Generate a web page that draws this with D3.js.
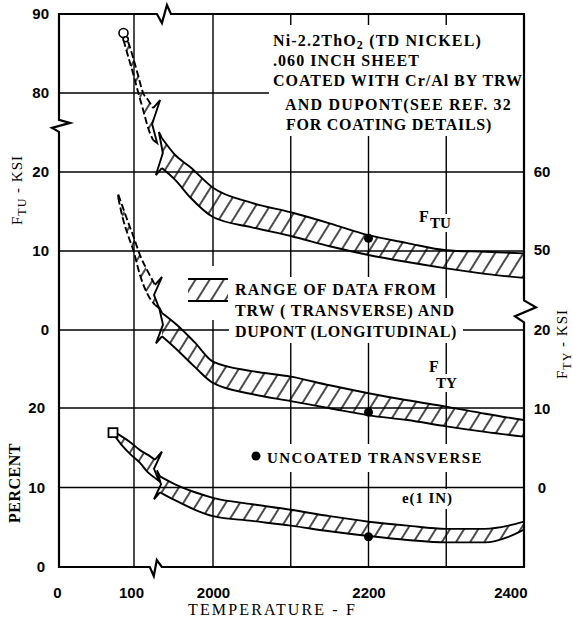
<!DOCTYPE html>
<html><head><meta charset="utf-8">
<script src="https://cdn.jsdelivr.net/npm/d3@7"></script>
<style>body{margin:0;background:#fff} svg{display:block}</style>
</head><body>
<svg id="c" width="573" height="625"></svg>
<script>
// ---------------- DATA ----------------
const xTickValues = [0, 100, 2000, 2200, 2400];
const xTickLabels = ["0", "100", "2000", "2200", "2400"];
const xGridValues = [100, 2000, 2100, 2200, 2300];
const tuTickValues = [90, 80, 20, 10, 0];
const tyTickValues = [60, 50, 20, 10, 0];
const elTickValues = [20, 10, 0];

// F_TU band (ksi), before and after the axis break
const ftuTemp1 = [86, 92, 99, 200, 320, 440, 560];
const ftuLow1  = [86.7, 84.7, 82.4, 80.1, 67.1, 53.4, 44.3];
const ftuHigh1 = [87.6, 86.5, 84.4, 82.2, 80.0, 74.7, 68.6];
const ftuTemp2 = [770, 1090, 1450, 2000, 2050, 2100, 2150, 2200, 2250, 2300, 2350, 2400];
const ftuLow2  = [23.0, 19.0, 16.8, 14.3, 13.0, 11.9, 10.6, 9.5, 8.6, 7.8, 7.1, 6.6];
const ftuHigh2 = [45.8, 32.9, 23.8, 18.0, 16.1, 14.9, 13.5, 12.0, 11.0, 10.1, 9.9, 9.7];

// F_TY band (ksi)
const ftyTemp1 = [79, 85, 92, 99, 244, 437, 605];
const ftyLow1  = [56.7, 54.1, 51.9, 50.0, 40.6, 33.1, 29.4];
const ftyHigh1 = [57.1, 55.5, 53.6, 51.8, 48.1, 41.8, 36.9];
const ftyTemp2 = [773, 1134, 1567, 2000, 2050, 2100, 2150, 2200, 2250, 2300, 2350, 2400];
const ftyLow2  = [19.2, 17.5, 15.3, 13.3, 11.9, 11.0, 10.1, 9.2, 8.6, 7.8, 7.1, 6.5];
const ftyHigh2 = [26.4, 21.9, 18.4, 16.0, 14.8, 14.1, 13.0, 12.0, 11.1, 10.3, 9.4, 8.6];

// Elongation band (percent)
const elTemp1 = [75, 84, 95, 244, 437, 605];
const elLow1  = [16.4, 15.3, 14.2, 13.1, 11.9, 11.2];
const elHigh1 = [16.9, 16.4, 15.7, 14.7, 14.1, 13.5];
const elTemp2 = [725, 1086, 1567, 2000, 2050, 2100, 2150, 2200, 2250, 2300, 2350, 2380, 2400];
const elLow2  = [9.4, 8.4, 7.2, 6.4, 5.8, 5.2, 4.5, 3.9, 3.4, 3.1, 3.1, 3.8, 4.7];
const elHigh2 = [11.4, 10.4, 9.4, 8.7, 7.9, 7.2, 6.4, 5.7, 5.2, 4.8, 4.8, 5.2, 5.7];

// Uncoated transverse points at 2200 F
const uncoatedTemp = 2200;
const ftuUncoated = 11.6, ftyUncoated = 9.6, elUncoated = 3.8;
// Room-temperature open symbols
const ftuRTTemp = [86, 89], ftuRTVal = [87.6, 86.8];
const elRTTemp = 72, elRTVal = 16.9;

const titleLines = ["Ni-2.2ThO_2 (TD NICKEL)", ".060 INCH SHEET", "COATED WITH Cr/Al BY TRW", "AND DUPONT(SEE REF. 32", "FOR COATING DETAILS)"];
const legendLines = ["RANGE OF DATA FROM", "TRW ( TRANSVERSE) AND", "DUPONT (LONGITUDINAL)"];

// ---------------- SCALES ----------------
const svg = d3.select("#c");
const x = d3.scaleLinear().domain([0, 100, 2000, 2400]).range([59, 134, 213, 524]);
const yTU = d3.scaleLinear().domain([0, 20, 80, 90]).range([330, 172, 93, 14]);
const yTY = d3.scaleLinear().domain([0, 20, 50, 60]).range([488, 330, 250, 172]);
const yEl = d3.scaleLinear().domain([0, 20]).range([567, 408]);
const X0 = x(0), X1 = x(2400), YT = yTU(90), YB = yEl(0);

const SERIF = "'Liberation Serif','Times New Roman',serif";
const SANS = "'Liberation Sans',Arial,sans-serif";

const defs = svg.append("defs");
const pat = defs.append("pattern").attr("id", "hatch").attr("patternUnits", "userSpaceOnUse")
  .attr("width", 12).attr("height", 12).attr("patternTransform", "rotate(32)");
pat.append("line").attr("x1", 2).attr("y1", -2).attr("x2", 2).attr("y2", 14)
  .attr("stroke", "#000").attr("stroke-width", 1.4);

// ---------------- GRID ----------------
const gGrid = svg.append("g").attr("stroke", "#000").attr("stroke-width", 1.4);
const hVals = [yTU(80), yTU(20), yTU(10), yTU(0), yEl(20), yEl(10)];
gGrid.selectAll("line.h").data(hVals).join("line").attr("class", "h")
  .attr("x1", X0).attr("x2", X1).attr("y1", d => d).attr("y2", d => d);
gGrid.selectAll("line.v").data(xGridValues).join("line").attr("class", "v")
  .attr("x1", d => x(d)).attr("x2", d => x(d)).attr("y1", YT).attr("y2", YB);

const gBg = svg.append("g");
const gText = svg.append("g");

function fitText(t, w) {
  const n = t.text().length;
  const nat = t.node().getComputedTextLength();
  t.style("letter-spacing", ((w - nat) / n) + "px");
}
function addSubText(g, str, xx, yy, size, weight) {
  const t = g.append("text").attr("x", xx).attr("y", yy).attr("font-family", SERIF)
    .attr("font-size", size).attr("font-weight", weight);
  const parts = str.split(/_(\w)/);
  parts.forEach((p, i) => {
    if (i % 2 === 1) t.append("tspan").attr("dy", 3).attr("font-size", size * 0.75).text(p);
    else if (i > 0) t.append("tspan").attr("dy", -3).text(p);
    else t.append("tspan").text(p);
  });
  return t;
}
function bgFor(t, padX, padTop, padBot) {
  const b = t.node().getBBox();
  gBg.append("rect").attr("x", b.x - padX).attr("y", b.y - padTop)
    .attr("width", b.width + 2 * padX).attr("height", b.height + padTop + padBot).attr("fill", "#fff");
}

// Title block
const titleX = [273, 273, 273, 285, 286];
const titleY = [46, 66, 86, 110, 130];
const titleW = [209, 147, 250, 227, 206];
const titleTexts = titleLines.map((s, i) => {
  const t = addSubText(gText, s, titleX[i], titleY[i], 16, "bold");
  fitText(t, titleW[i]);
  return t;
});
{
  let bx0 = 1e9, by0 = 1e9, by1 = -1e9;
  titleTexts.forEach(t => { const b = t.node().getBBox(); bx0 = Math.min(bx0, b.x); by0 = Math.min(by0, b.y); by1 = Math.max(by1, b.y + b.height); });
  gBg.append("rect").attr("x", bx0 - 4).attr("y", by0 - 7).attr("width", X1 - bx0 + 4)
    .attr("height", by1 - by0 + 9).attr("fill", "#fff");
}

// Legend
const legX = 235, legY = [295, 316, 337], legW = [202, 220, 222];
gBg.append("rect").attr("x", 183).attr("y", 266).attr("width", 50).attr("height", 54).attr("fill", "#fff");
legendLines.forEach((s, i) => {
  const t = gText.append("text").attr("x", legX).attr("y", legY[i]).attr("font-family", SERIF)
    .attr("font-size", 16).attr("font-weight", "bold").text(s);
  fitText(t, legW[i]);
  bgFor(t, 6, 4, 2);
});
gText.append("rect").attr("x", 188).attr("y", 279).attr("width", 40).attr("height", 22).attr("fill", "url(#hatch)");
gText.append("line").attr("x1", 188).attr("x2", 228).attr("y1", 279).attr("y2", 279).attr("stroke", "#000").attr("stroke-width", 1.8);
gText.append("line").attr("x1", 188).attr("x2", 228).attr("y1", 301).attr("y2", 301).attr("stroke", "#000").attr("stroke-width", 1.8);

// Uncoated legend
{
  const t = gText.append("text").attr("x", 267).attr("y", 463).attr("font-family", SERIF)
    .attr("font-size", 15).attr("font-weight", "bold").text("UNCOATED TRANSVERSE");
  fitText(t, 216); bgFor(t, 4, 6, 6);
  gText.append("circle").attr("cx", 256).attr("cy", 456).attr("r", 4.5).attr("fill", "#000");
}
{
  const t = gText.append("text").attr("x", 402).attr("y", 503).attr("font-family", SERIF)
    .attr("font-size", 15).attr("font-weight", "bold").text("e(1 IN)");
  fitText(t, 51); bgFor(t, 2, 1, 2);
}
// F_TU / F_TY labels
function fLabel(fx, fy, sub, sx, sy) {
  const g = gText.append("g");
  const a = g.append("text").attr("x", fx).attr("y", fy).attr("font-family", SERIF).attr("font-size", 16).attr("font-weight", "bold").text("F");
  const b = g.append("text").attr("x", sx).attr("y", sy).attr("font-family", SERIF).attr("font-size", 15).attr("font-weight", "bold").text(sub);
  bgFor(a, 2, 2, 0); bgFor(b, 2, 1, 1);
}
fLabel(419, 222, "TU", 430, 228);
fLabel(429, 372, "TY", 436, 388);

// ---------------- AXES ----------------
const axL1 = svg.append("g").attr("transform", `translate(${X0},0)`)
  .call(d3.axisLeft(yTU).tickValues(tuTickValues).tickSize(0).tickPadding(10));
const axL2 = svg.append("g").attr("transform", `translate(${X0},0)`)
  .call(d3.axisLeft(yEl).tickValues(elTickValues).tickSize(0).tickPadding(14));
const axR = svg.append("g").attr("transform", `translate(${X1},0)`)
  .call(d3.axisRight(yTY).tickValues(tyTickValues).tickSize(0).tickPadding(18));
const axB = svg.append("g").attr("transform", `translate(0,${YB})`)
  .call(d3.axisBottom(x).tickValues(xTickValues).tickFormat((d, i) => xTickLabels[i]).tickSize(0).tickPadding(20));
[axL1, axL2, axR, axB].forEach(a => {
  a.select(".domain").remove();
  a.selectAll("text").attr("font-family", SANS).attr("font-size", 15).attr("font-weight", "bold").attr("fill", "#000");
});
axR.selectAll("text").attr("text-anchor", "middle");
axB.selectAll("text").filter(d => d === 2400).attr("text-anchor", "end").attr("dx", 3);
axB.selectAll("text").filter(d => d === 100).attr("dx", -3);
axB.selectAll("text").filter(d => d === 0).attr("dx", -2);

// Axis titles
{
  const t = svg.append("text").attr("x", 188).attr("y", 615).attr("font-family", SERIF)
    .attr("font-size", 16).text("TEMPERATURE - F");
  fitText(t, 169);
  const p = svg.append("text").attr("transform", "translate(20,483) rotate(-90)").attr("text-anchor", "middle")
    .attr("font-family", SERIF).attr("font-size", 16).attr("font-weight", "bold").text("PERCENT");
  fitText(p, 80);
  const l = svg.append("text").attr("transform", "translate(22,190) rotate(-90)").attr("text-anchor", "middle")
    .attr("font-family", SERIF).attr("font-size", 15);
  l.append("tspan").text("F");
  l.append("tspan").attr("dy", 4).attr("font-size", 12).text("TU");
  l.append("tspan").attr("dy", -4).text(" - KSI");
  l.style("letter-spacing", "1px");
  const r = svg.append("text").attr("transform", "translate(567,344) rotate(-90)").attr("text-anchor", "middle")
    .attr("font-family", SERIF).attr("font-size", 15);
  r.append("tspan").text("F");
  r.append("tspan").attr("dy", 4).attr("font-size", 12).text("TY");
  r.append("tspan").attr("dy", -4).text(" - KSI");
  r.style("letter-spacing", "1px");
}

// ---------------- BANDS ----------------
const gBand = svg.append("g");
function band(temps, lo, hi, yS, dashed, capStart, capEnd) {
  const pts = temps.map((t, i) => ({ x: x(t), u: yS(hi[i]), l: yS(lo[i]) }));
  const area = d3.area().x(d => d.x).y0(d => d.l).y1(d => d.u).curve(d3.curveMonotoneX);
  gBand.append("path").attr("d", area(pts)).attr("fill", "url(#hatch)");
  const line = d3.line().curve(d3.curveMonotoneX);
  const st = p => p.attr("fill", "none").attr("stroke", "#000").attr("stroke-width", 1.9)
    .attr("stroke-dasharray", dashed ? "7,3" : null).attr("stroke-linejoin", "miter");
  st(gBand.append("path").attr("d", line(pts.map(p => [p.x, p.u]))));
  st(gBand.append("path").attr("d", line(pts.map(p => [p.x, p.l]))));
  const plain = d3.line();
  const s = pts[0], e = pts[pts.length - 1];
  const capPath = (p, type) => {
    const U = [p.x, p.u], L = [p.x, p.l], M = [p.x, (p.u + p.l) / 2];
    if (type === "end") return [U, [U[0] + 7, U[1] - 8], [M[0] - 1, M[1]], [L[0] + 4, L[1] + 3], L];
    if (type === "start") return [L, [L[0] - 6, L[1] + 7], [M[0] + 1, M[1]], [U[0] - 3, U[1] - 6], U];
    return [U, L];
  };
  const sc = gBand.append("path").attr("d", plain(capPath(s, capStart)));
  const ec = gBand.append("path").attr("d", plain(capPath(e, capEnd)));
  [sc, ec].forEach(c => c.attr("fill", "none").attr("stroke", "#000").attr("stroke-width", 1.9).attr("stroke-linejoin", "miter"));
}
band(ftuTemp1, ftuLow1, ftuHigh1, yTU, true, "flat", "end");
band(ftuTemp2, ftuLow2, ftuHigh2, yTU, false, "start", "flat");
band(ftyTemp1, ftyLow1, ftyHigh1, yTY, true, "flat", "end");
band(ftyTemp2, ftyLow2, ftyHigh2, yTY, false, "start", "flat");
band(elTemp1, elLow1, elHigh1, yEl, false, "flat", "end");
band(elTemp2, elLow2, elHigh2, yEl, false, "start", "flat");

// points
gBand.append("circle").attr("cx", x(uncoatedTemp)).attr("cy", yTU(ftuUncoated)).attr("r", 4.5).attr("fill", "#000");
gBand.append("circle").attr("cx", x(uncoatedTemp)).attr("cy", yTY(ftyUncoated)).attr("r", 4.5).attr("fill", "#000");
gBand.append("circle").attr("cx", x(uncoatedTemp)).attr("cy", yEl(elUncoated)).attr("r", 4.5).attr("fill", "#000");
gBand.selectAll("circle.rt").data(ftuRTTemp).join("circle").attr("class", "rt")
  .attr("cx", d => x(d)).attr("cy", (d, i) => yTU(ftuRTVal[i])).attr("r", (d, i) => i ? 2.5 : 4.5)
  .attr("fill", "#fff").attr("stroke", "#000").attr("stroke-width", 1.6);
gBand.append("rect").attr("x", x(elRTTemp) - 4.5).attr("y", yEl(elRTVal) - 4.5).attr("width", 9).attr("height", 9)
  .attr("fill", "#fff").attr("stroke", "#000").attr("stroke-width", 1.8);

// ---------------- FRAME (with breaks) ----------------
const bxT = x(820), bxB = x(600), byL = yTU(55), byR = yTY(27);
const frame = [
  [X0, YT], [bxT - 7, YT], [bxT - 2, YT + 9], [bxT + 3, YT - 9], [bxT + 7, YT], [X1, YT],
  [X1, byR - 11], [X1 + 12, byR - 4], [X1 - 9, byR + 5], [X1, byR + 11], [X1, YB],
  [bxB + 7, YB], [bxB + 2, YB - 7], [bxB - 1, YB + 9], [bxB - 5, YB], [X0, YB],
  [X0, byL + 6], [X0 - 7, byL + 2], [X0 + 11, byL - 3], [X0, byL - 6], [X0, YT]
];
svg.append("path").attr("d", d3.line()(frame) + "Z").attr("fill", "none").attr("stroke", "#000")
  .attr("stroke-width", 2.2).attr("stroke-linejoin", "miter");
</script>
</body></html>
